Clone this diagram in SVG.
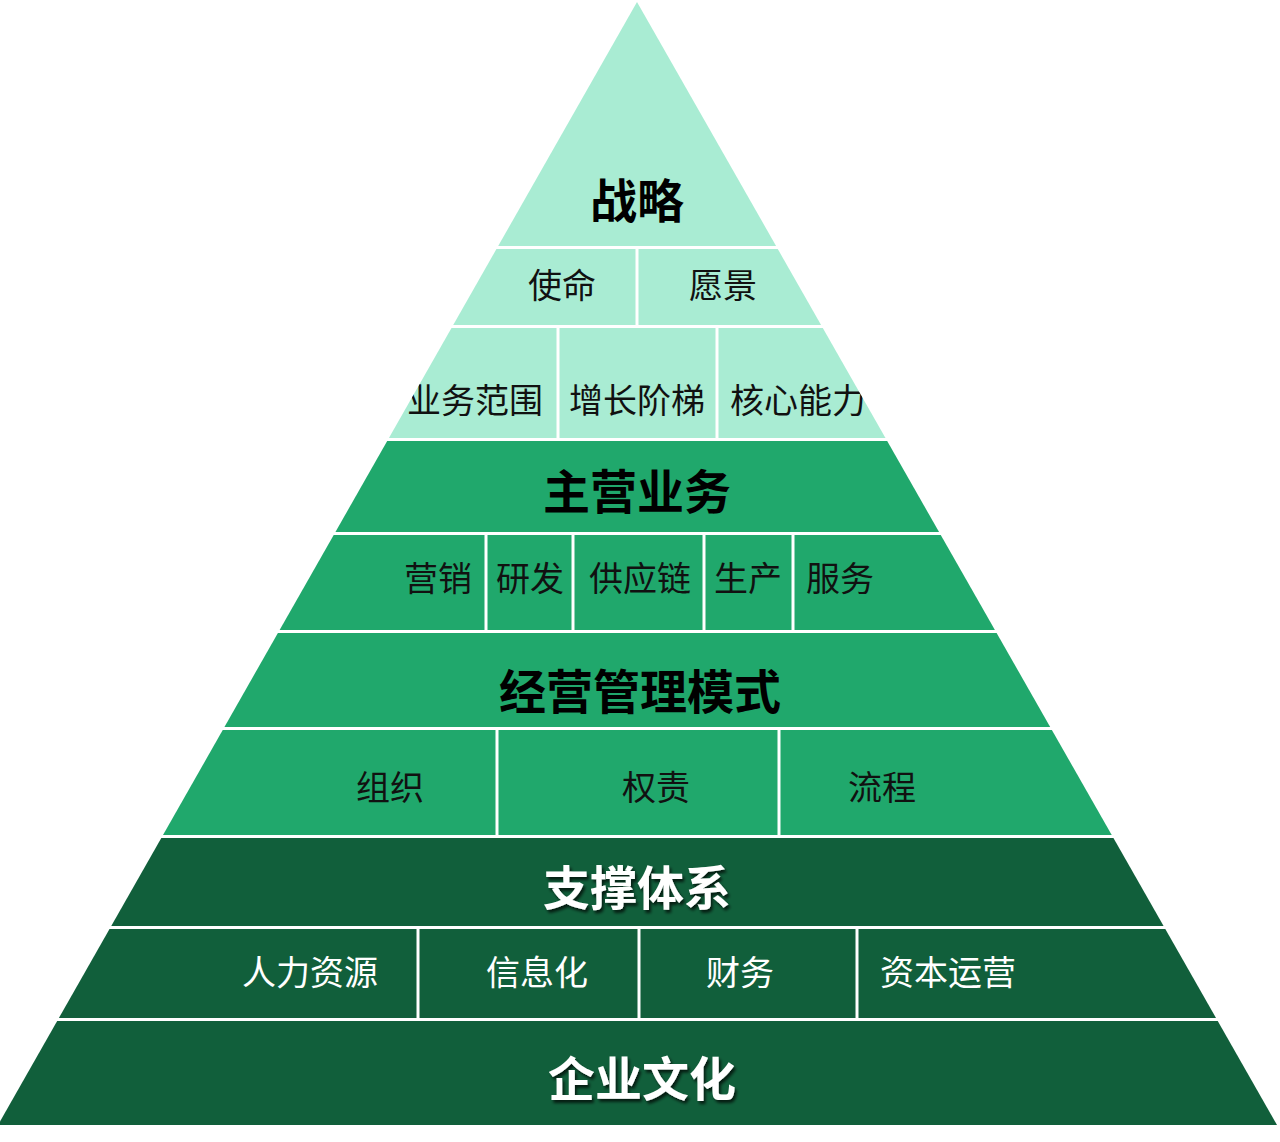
<svg xmlns="http://www.w3.org/2000/svg" width="1280" height="1142" viewBox="0 0 1280 1142">
<defs>
<clipPath id="tri"><polygon points="637,2 1277,1125 -2,1125"/></clipPath>
<filter id="sh" x="-10%" y="-20%" width="130%" height="150%"><feDropShadow dx="2" dy="3" stdDeviation="1.5" flood-color="#000" flood-opacity="0.7"/></filter>
</defs>
<style>
.l{fill:#a9ecd3}.m{fill:#20a86c}.d{fill:#115f3b}
text{font-family:"Noto Sans CJK SC","Noto Sans",sans-serif;text-anchor:middle;dominant-baseline:central}
.t{font-size:47px;font-weight:bold;fill:#000}
.s{font-size:34px;fill:#111}
.w{fill:#fff}
.sep{stroke:#fff;stroke-width:3}
</style>
<rect width="1280" height="1142" fill="#fff"/>
<g clip-path="url(#tri)">
<g id="n1"><rect class="l" x="0" y="0" width="1280" height="246"/><text class="t" x="637" y="197">战略</text></g>
<g id="n2"><rect class="l" x="0" y="249" width="1280" height="76"/><text class="s" x="562" y="283">使命</text><text class="s" x="723" y="283">愿景</text></g>
<g id="n3"><rect class="l" x="0" y="328" width="1280" height="110"/><text class="s" x="475" y="398">业务范围</text><text class="s" x="637" y="398">增长阶梯</text><text class="s" x="798" y="398">核心能力</text></g>
<g id="n4"><rect class="m" x="0" y="441" width="1280" height="91"/><text class="t" x="637" y="488">主营业务</text></g>
<g id="n5"><rect class="m" x="0" y="535" width="1280" height="95"/><text class="s" x="438" y="576">营销</text><text class="s" x="530" y="576">研发</text><text class="s" x="640" y="576">供应链</text><text class="s" x="748" y="576">生产</text><text class="s" x="840" y="576">服务</text></g>
<g id="n6"><rect class="m" x="0" y="633" width="1280" height="94"/><text class="t" x="640" y="688">经营管理模式</text></g>
<g id="n7"><rect class="m" x="0" y="730" width="1280" height="105"/><text class="s" x="390" y="785">组织</text><text class="s" x="656" y="785">权责</text><text class="s" x="882" y="785">流程</text></g>
<g id="n8"><rect class="d" x="0" y="838" width="1280" height="88"/><text class="t w" filter="url(#sh)" x="637" y="884">支撑体系</text></g>
<g id="n9"><rect class="d" x="0" y="929" width="1280" height="89"/><text class="s w" x="310" y="970">人力资源</text><text class="s w" x="537" y="970">信息化</text><text class="s w" x="740" y="970">财务</text><text class="s w" x="948" y="970">资本运营</text></g>
<g id="n10"><rect class="d" x="0" y="1021" width="1280" height="104"/><text class="t w" filter="url(#sh)" x="642" y="1075">企业文化</text></g>
<g id="connectors">
<line class="sep" x1="637" y1="249" x2="637" y2="325"/>
<line class="sep" x1="558" y1="328" x2="558" y2="438"/>
<line class="sep" x1="717" y1="328" x2="717" y2="438"/>
<line class="sep" x1="486" y1="535" x2="486" y2="630"/>
<line class="sep" x1="573" y1="535" x2="573" y2="630"/>
<line class="sep" x1="704" y1="535" x2="704" y2="630"/>
<line class="sep" x1="793" y1="535" x2="793" y2="630"/>
<line class="sep" x1="497" y1="730" x2="497" y2="835"/>
<line class="sep" x1="779" y1="730" x2="779" y2="835"/>
<line class="sep" x1="418" y1="929" x2="418" y2="1018"/>
<line class="sep" x1="639" y1="929" x2="639" y2="1018"/>
<line class="sep" x1="857" y1="929" x2="857" y2="1018"/>
</g>
</g>
</svg>
